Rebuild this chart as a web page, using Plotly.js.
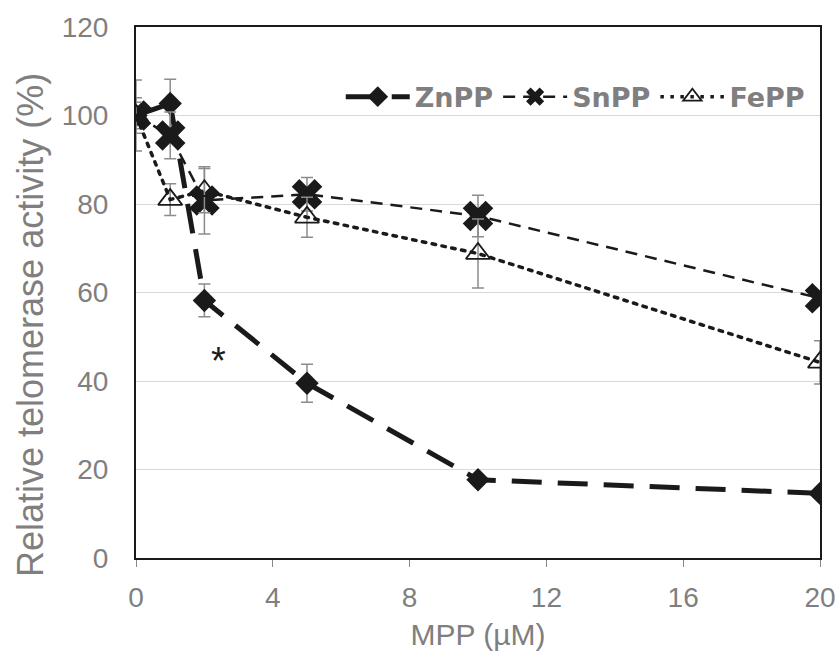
<!DOCTYPE html>
<html>
<head>
<meta charset="utf-8">
<script src="https://cdn.plot.ly/plotly-3.0.1.min.js"></script>
<style>html,body{margin:0;padding:0;background:#fff;}#chart{width:837px;height:658px;}</style>
</head>
<body>
<div id="chart"></div>
<script>
const xVals = [0, 1, 2, 5, 10, 20];
const znpp = [100, 102.7, 58.2, 39.5, 17.7, 14.6];
const znppErr = [8, 5.5, 3.7, 4.3, 1, 1];
const snpp = [100, 95.5, 80.8, 82.2, 77.3, 58.7];
const snppErr = [4, 5.3, 7.6, 3.8, 4.7, 1.5];
const fepp = [100, 81, 83, 77, 68.8, 44.2];
const feppErr = [3, 3.6, 5, 4.5, 7.8, 4.9];
const xTicks = [0, 4, 8, 12, 16, 20];
const yTicks = [0, 20, 40, 60, 80, 100, 120];

const errStyle = {type: 'data', visible: true, color: '#8c8c8c', thickness: 1.5, width: 6};

const traces = [
  {x: xVals, y: znpp, name: 'ZnPP', mode: 'lines+markers',
   error_y: Object.assign({array: znppErr}, errStyle),
   line: {color: '#1a1a1a', width: 5, dash: '30px,16px'},
   marker: {symbol: 'diamond', size: 18, color: '#1a1a1a'}},
  {x: xVals, y: snpp, name: 'SnPP', mode: 'lines+markers',
   error_y: Object.assign({array: snppErr}, errStyle),
   line: {color: '#1a1a1a', width: 2.5, dash: '12px,8px'},
   marker: {symbol: 'x', size: 27, color: '#1a1a1a'}},
  {x: xVals, y: fepp, name: 'FePP', mode: 'lines+markers',
   error_y: Object.assign({array: feppErr}, errStyle),
   line: {color: '#1a1a1a', width: 3.5, dash: '3.5px,6.5px'},
   marker: {symbol: 'triangle-up-open', size: 21, color: '#1a1a1a', line: {width: 1.8, color: '#1a1a1a'}}}
];

const layout = {
  width: 837, height: 658,
  margin: {l: 136, r: 17, t: 27, b: 100},
  paper_bgcolor: '#fff', plot_bgcolor: '#fff',
  font: {family: 'Liberation Sans, Arial, sans-serif', color: '#808080'},
  showlegend: true,
  legend: {orientation: 'h', x: 0.985, xanchor: 'right', y: 0.868, yanchor: 'middle',
           font: {family: 'DejaVu Sans, sans-serif', size: 27, color: '#7f7f7f', weight: 'bold'},
           bgcolor: 'rgba(255,255,255,0)', traceorder: 'normal', itemwidth: 64},
  xaxis: {range: [0, 20], tickvals: xTicks, ticktext: xTicks.map(String),
          showgrid: false, zeroline: false, showline: true, linecolor: '#1a1a1a', linewidth: 2,
          mirror: true, ticks: 'outside', ticklen: 7, tickcolor: '#888', tickwidth: 1,
          tickfont: {size: 28, color: '#7f7f7f'}, ticklabelstandoff: 6,
          title: {text: 'MPP (µM)', font: {size: 30, color: '#7f7f7f'}, standoff: 12}},
  yaxis: {range: [0, 120], tickvals: yTicks, ticktext: yTicks.map(String),
          showgrid: true, gridcolor: '#d9d9d9', gridwidth: 1, zeroline: false,
          showline: true, linecolor: '#1a1a1a', linewidth: 2, mirror: true, ticks: '',
          tickfont: {size: 28, color: '#7f7f7f'}, ticklabelstandoff: 20,
          title: {text: ''}},
  annotations: [
    {x: 2.4, y: 44.5, xref: 'x', yref: 'y', text: '*', showarrow: false,
     font: {size: 38, color: '#1a1a1a', family: 'Liberation Sans, Arial, sans-serif'}},
    {x: 0, y: 0, xref: 'paper', yref: 'paper', text: 'Relative telomerase activity (%)',
     textangle: -90, showarrow: false, xanchor: 'center', yanchor: 'middle',
     font: {size: 36, color: '#7f7f7f', family: 'Liberation Sans, Arial, sans-serif'}}
  ]
};
// place the y-axis title annotation at pixel (30, 325) of the figure
(function(){
  const a = layout.annotations[1];
  const pw = 837 - 136 - 17, ph = 658 - 27 - 100;
  a.x = (30 - 136) / pw;
  a.y = (558 - 325) / ph;
})();

Plotly.newPlot('chart', traces, layout, {displayModeBar: false, staticPlot: true}).then(function(gd){
  gd.querySelectorAll('.scatterlayer .trace:nth-child(3) .js-line').forEach(function(p){ p.style.strokeLinecap = 'round'; });
});
</script>
</body>
</html>
